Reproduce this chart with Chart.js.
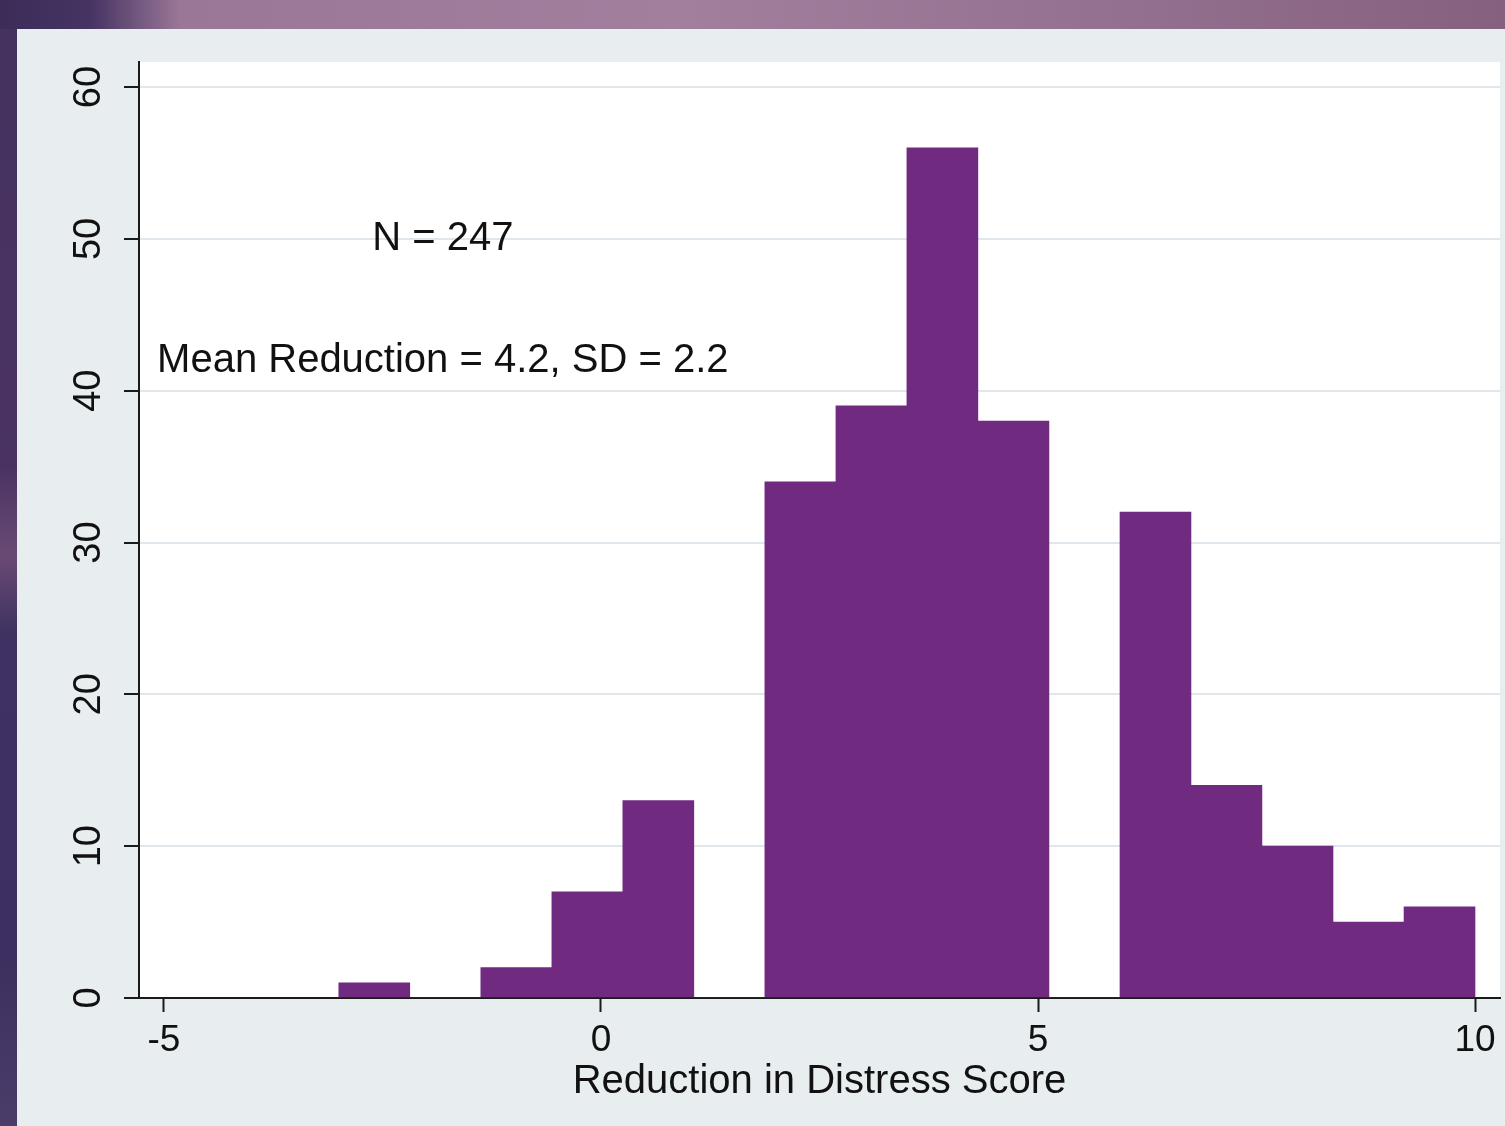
<!DOCTYPE html>
<html>
<head>
<meta charset="utf-8">
<script src="https://cdn.jsdelivr.net/npm/chart.js@4.4.1/dist/chart.umd.min.js"></script>
<style>
    html, body {
        margin: 0;
        padding: 0;
        width: 1505px;
        height: 1126px;
        overflow: hidden;
        background: linear-gradient(to right, #3b2c58 0%, #463463 6%, #9a7797 12%, #a27f9d 45%, #93708f 75%, #86617f 100%);
    }
    #panel {
        position: absolute;
        left: 17px;
        top: 29px;
        width: 1488px;
        height: 1097px;
        background: #e8edf0;
    }
    #side {
        position: absolute;
        left: 0;
        top: 29px;
        width: 17px;
        height: 1097px;
        background: linear-gradient(to bottom, #45325f 0%, #4a3363 40%, #6a4a74 48%, #3f3262 55%, #3d3060 85%, #4a3d6a 100%);
    }
</style>
</head>
<body>
<div id="side"></div>
<div id="panel"><canvas id="distress-histogram"></canvas></div>
<script>
// Histogram bins (bin midpoints) and frequencies
const binMidpoints = [-2.594, -1.781, -0.969, -0.156, 0.656, 1.469, 2.281, 3.094,
                      3.906, 4.719, 5.531, 6.344, 7.156, 7.969, 8.781, 9.594];
const frequencies = [1, 0, 2, 7, 13, 0, 34, 39, 56, 38, 0, 32, 14, 10, 5, 6];

const xTickValues = [-5, 0, 5, 10];
const yTickValues = [0, 10, 20, 30, 40, 50, 60];

// Text annotations placed in data coordinates
const noteTexts = ['N = 247', 'Mean Reduction = 4.2, SD = 2.2'];
const noteX = [-1.81, -1.81];
const noteY = [49.3, 41.2];

const fontFamily = '"Liberation Sans", Arial, Helvetica, sans-serif';
const barColor = '#702a80';

const plotBackground = {
    id: 'plotBackground',
    beforeDraw(chart) {
        const {ctx, chartArea} = chart;
        ctx.save();
        ctx.fillStyle = '#ffffff';
        ctx.fillRect(chartArea.left, chartArea.top, chartArea.right - chartArea.left, chartArea.bottom - chartArea.top);
        ctx.restore();
    }
};

const textNotes = {
    id: 'textNotes',
    afterDatasetsDraw(chart) {
        const {ctx, scales} = chart;
        ctx.save();
        ctx.fillStyle = '#111111';
        ctx.font = '40px ' + fontFamily;
        ctx.textAlign = 'center';
        ctx.textBaseline = 'alphabetic';
        noteTexts.forEach((t, i) => {
            ctx.fillText(t, scales.x.getPixelForValue(noteX[i]), scales.y.getPixelForValue(noteY[i]));
        });
        ctx.restore();
    }
};

new Chart(document.getElementById('distress-histogram'), {
    type: 'bar',
    data: {
        datasets: [{
            data: binMidpoints.map((x, i) => ({x: x, y: frequencies[i]})),
            backgroundColor: barColor,
            borderWidth: 0,
            barPercentage: 1,
            categoryPercentage: 1
        }]
    },
    options: {
        responsive: true,
        maintainAspectRatio: false,
        animation: false,
        layout: {
            padding: {top: 33, right: 5, left: 0, bottom: 0}
        },
        plugins: {
            legend: {display: false},
            tooltip: {enabled: false}
        },
        scales: {
            x: {
                type: 'linear',
                offset: false,
                min: -5.286,
                max: 10.286,
                afterBuildTicks: (scale) => {
                    scale.ticks = xTickValues.map(v => ({value: v}));
                },
                afterFit: (scale) => {
                    scale.height = 128;
                    scale.paddingLeft = 0;
                    scale.paddingRight = 0;
                },
                ticks: {
                    color: '#111111',
                    font: {family: fontFamily, size: 37},
                    padding: 7,
                    maxRotation: 0,
                    autoSkip: false
                },
                grid: {
                    offset: false,
                    drawOnChartArea: false,
                    drawTicks: true,
                    tickLength: 14,
                    tickColor: '#1a1a1a',
                    tickWidth: 2
                },
                border: {
                    display: true,
                    color: '#1a1a1a',
                    width: 2
                },
                title: {
                    display: true,
                    text: 'Reduction in Distress Score',
                    color: '#111111',
                    font: {family: fontFamily, size: 40},
                    padding: {top: 0, bottom: 20}
                }
            },
            y: {
                type: 'linear',
                min: 0,
                max: 61.65,
                afterBuildTicks: (scale) => {
                    scale.ticks = yTickValues.map(v => ({value: v}));
                },
                afterFit: (scale) => {
                    scale.width = 122;
                    scale.paddingTop = 0;
                    scale.paddingBottom = 0;
                },
                ticks: {
                    color: '#111111',
                    font: {family: fontFamily, size: 38},
                    minRotation: 90,
                    maxRotation: 90,
                    crossAlign: 'center',
                    padding: 13
                },
                grid: {
                    color: '#dfe7ec',
                    lineWidth: 2,
                    tickLength: 15,
                    tickColor: '#1a1a1a',
                    tickWidth: 2
                },
                border: {
                    display: true,
                    color: '#1a1a1a',
                    width: 2
                }
            }
        }
    },
    plugins: [plotBackground, textNotes]
});
</script>
</body>
</html>
